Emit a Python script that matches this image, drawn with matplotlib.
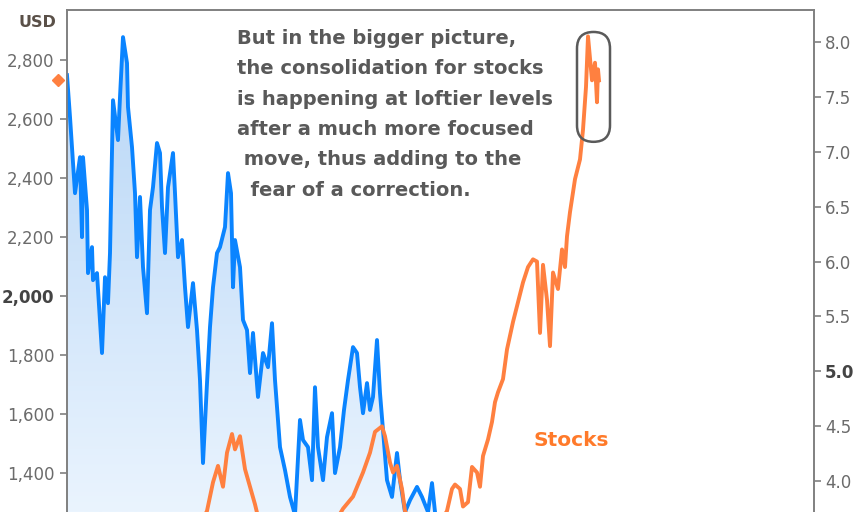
"""
Gold (USD) vs stocks - consolidation at loftier levels
"""
import matplotlib
matplotlib.use('Agg')
import numpy as np
import matplotlib.pyplot as plt
from matplotlib.patches import FancyBboxPatch, Polygon
from matplotlib.transforms import blended_transform_factory

# blue series (left axis, USD) - time index and values
gold_t = [0, 3, 8, 13, 15, 16, 20, 21, 25, 26, 30, 35, 38, 41, 43, 46, 51, 53, 56, 60,
          61, 65, 68, 70, 73, 76, 80, 83, 86, 90, 93, 95, 98, 101, 106, 108, 111, 115, 118, 121,
          126, 130, 133, 136, 140, 143, 146, 150, 153, 158, 161, 164, 166, 168, 173, 176, 180, 183, 186, 191,
          196, 201, 205, 208, 213, 218, 223, 228, 233, 236, 241, 245, 248, 251, 256, 260, 265, 268, 273, 277,
          281, 286, 290, 293, 296, 300, 303, 306, 310, 313, 316, 320, 325, 330, 333, 338, 343, 350, 355, 361,
          365, 368, 373, 383]
gold = [2749, 2607, 2349, 2471, 2200, 2471, 2292, 2078, 2166, 2054, 2078, 1807, 2064, 1976, 2146, 2664, 2529, 2675, 2878, 2790,
        2641, 2505, 2349, 2132, 2336, 2098, 1942, 2292, 2369, 2519, 2485, 2302, 2146, 2369, 2485, 2349, 2132, 2190, 2030, 1895,
        2044, 1885, 1715, 1434, 1705, 1895, 2030, 2146, 2166, 2234, 2417, 2349, 2030, 2190, 2098, 1919, 1885, 1739, 1875, 1658,
        1807, 1759, 1908, 1715, 1488, 1410, 1319, 1258, 1580, 1512, 1488, 1376, 1691, 1488, 1376, 1522, 1603, 1400, 1488, 1614,
        1715, 1827, 1807, 1691, 1603, 1705, 1614, 1658, 1851, 1671, 1546, 1376, 1319, 1468, 1376, 1268, 1308, 1353, 1319, 1268,
        1366, 1268, 1173, 1105]

# orange series (right axis)
stocks_t = [133, 140, 146, 151, 156, 160, 165, 168, 173, 178, 183, 188, 193, 263, 276, 286, 296, 303, 308, 315,
            318, 323, 326, 330, 335, 338, 345, 373, 380, 385, 388, 393, 396, 401, 405, 410, 413, 416, 421, 425,
            428, 431, 436, 440, 446, 451, 456, 461, 466, 470, 473, 476, 480, 483, 486, 491, 495, 498, 500, 503,
            508, 513, 516, 519, 521, 525, 528, 530, 531, 532]
stocks = [3.6, 3.73, 3.99, 4.14, 3.95, 4.26, 4.43, 4.29, 4.41, 4.11, 3.95, 3.79, 3.6, 3.55, 3.75, 3.86, 4.08, 4.26, 4.45, 4.50,
          4.41, 4.17, 4.08, 4.14, 3.93, 3.73, 3.6, 3.62, 3.73, 3.93, 3.97, 3.93, 3.77, 3.81, 4.13, 4.08, 3.95, 4.23, 4.38, 4.54,
          4.72, 4.81, 4.93, 5.20, 5.45, 5.63, 5.81, 5.95, 6.02, 6.00, 5.35, 5.97, 5.65, 5.23, 5.90, 5.75, 6.11, 5.95, 6.23, 6.45,
          6.75, 6.93, 7.20, 7.59, 8.05, 7.65, 7.81, 7.45, 7.75, 7.65]

left_ticks = [1400, 1600, 1800, 2000, 2200, 2400, 2600, 2800]
right_ticks = [4.0, 4.5, 5.0, 5.5, 6.0, 6.5, 7.0, 7.5, 8.0]

note = ["But in the bigger picture,",
        "the consolidation for stocks",
        "is happening at loftier levels",
        "after a much more focused",
        " move, thus adding to the",
        "  fear of a correction."]

blue = '#0a84ff'
orange = '#ff8040'
grey = '#808080'
label_col = '#6b6b6b'

fig = plt.figure(figsize=(8.64, 5.12), dpi=100)
ax = fig.add_axes([67/864, 0.0, 747/864, 502/512])
ax2 = ax.twinx()

ax.set_xlim(0, 747)
ax.set_ylim(1268, 2970)
ax2.set_ylim(3.72, 8.29)

# gradient fill under the blue line
grad = np.linspace(0, 1, 256).reshape(-1, 1)
cmap = matplotlib.colors.LinearSegmentedColormap.from_list('g', ['#b4d4f6', '#eaf4fe'])
img = ax.imshow(grad, cmap=cmap, aspect='auto', extent=[0, 747, 1268, 2970],
                origin='upper', zorder=1)
verts = list(zip(gold_t, gold)) + [(gold_t[-1], 1000), (gold_t[0], 1000)]
poly = Polygon(verts, closed=True, facecolor='none', edgecolor='none')
ax.add_patch(poly)
img.set_clip_path(poly)

ax.plot(gold_t, gold, color=blue, lw=2.8, zorder=3)
ax2.plot(stocks_t, stocks, color=orange, lw=2.8, zorder=3)

# last value marker for stocks on the left edge
tr = blended_transform_factory(ax2.transAxes, ax2.transData)
ax2.plot([-0.012], [stocks[-1]], marker='D', ms=6.5, color=orange, transform=tr, clip_on=False)

# rounded frame around the latest consolidation
box = FancyBboxPatch((510, 7.09), 33, 1.0, boxstyle='round,pad=0,rounding_size=16.5',
                     mutation_aspect=1/110, facecolor='none', edgecolor='#5a5a5a', lw=1.8, zorder=4)
ax2.add_patch(box)

# axes styling
for a in (ax, ax2):
    for s in a.spines.values():
        s.set_color(grey)
        s.set_linewidth(1.2)
    a.spines['bottom'].set_visible(False)
ax.set_xticks([])
ax.set_yticks(left_ticks)
ax.set_yticklabels(['{:,}'.format(v) for v in left_ticks])
ax2.set_yticks(right_ticks)
ax2.set_yticklabels(['{:.1f}'.format(v) for v in right_ticks])
ax.tick_params(axis='y', length=5, width=1.2, color=grey, labelsize=12, labelcolor=label_col, pad=4)
ax2.tick_params(axis='y', length=5, width=1.2, color=grey, labelsize=12, labelcolor=label_col, pad=3)
for lab in ax.get_yticklabels():
    if lab.get_text() == '2,000':
        lab.set_fontweight('bold')
        lab.set_color('#444444')
for lab in ax2.get_yticklabels():
    if lab.get_text() == '5.0':
        lab.set_fontweight('bold')
        lab.set_color('#444444')

ax.text(-0.04, 0.976, 'USD', transform=ax.transAxes, ha='center', va='center',
        fontsize=11.5, fontweight='bold', color='#5a5048')

for i, line in enumerate(note):
    ax.text(0.2276, 0.944 - i * 0.0607, line, transform=ax.transAxes, ha='left', va='center',
            fontsize=14, fontweight='bold', color='#595959', zorder=5)

ax.text(0.624, 0.143, 'Stocks', transform=ax.transAxes, ha='left', va='center',
        fontsize=14.5, fontweight='bold', color='#ff7a2a', zorder=5)

fig.savefig('out.png', dpi=100)
